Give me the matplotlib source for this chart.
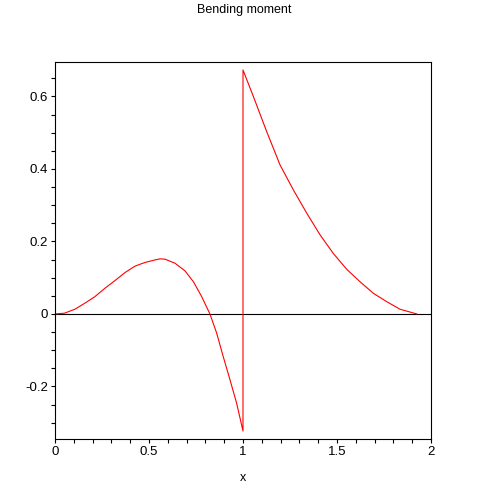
import numpy as np
import matplotlib
matplotlib.use("Agg")
import matplotlib.pyplot as plt
from matplotlib.ticker import MultipleLocator

plt.rcParams['font.family'] = ['Liberation Sans', 'DejaVu Sans']

# values
x_left = [0.0, 0.05, 0.106, 0.16, 0.213, 0.266, 0.319, 0.372, 0.426, 0.479,
          0.532, 0.56, 0.585, 0.638, 0.691, 0.736, 0.78, 0.824, 0.86, 0.895,
          0.931, 0.966, 1.0]
m_left = [0.0, 0.002, 0.013, 0.03, 0.048, 0.071, 0.092, 0.114, 0.132, 0.142,
          0.149, 0.152, 0.151, 0.14, 0.119, 0.089, 0.048, 0.0, -0.053, -0.118,
          -0.182, -0.246, -0.323]
x_right = [1.0, 1.055, 1.126, 1.197, 1.268, 1.339, 1.41, 1.48, 1.552, 1.622,
           1.693, 1.764, 1.835, 1.924]
m_right = [0.673, 0.6, 0.503, 0.411, 0.342, 0.278, 0.218, 0.167, 0.123, 0.089,
           0.057, 0.034, 0.013, 0.0]

x = np.array(x_left + x_right)
m = np.array(m_left + m_right)

fig = plt.figure(figsize=(4.88, 4.88), dpi=100)
ax = fig.add_axes([0.1127, 0.1004, 0.7705, 0.7726])

ax.axhline(0, color='black', lw=0.8)
ax.plot(x, m, color='red', lw=0.8)

ax.set_xlim(0, 2)
ax.set_ylim(-0.345, 0.695)
ax.xaxis.set_major_locator(MultipleLocator(0.5))
ax.xaxis.set_minor_locator(MultipleLocator(0.1))
ax.yaxis.set_major_locator(MultipleLocator(0.2))
ax.yaxis.set_minor_locator(MultipleLocator(0.05))
ax.xaxis.set_major_formatter(plt.FuncFormatter(lambda v, p: f"{v:g}"))
ax.yaxis.set_major_formatter(plt.FuncFormatter(lambda v, p: f"{v:g}"))

ax.tick_params(which='both', direction='out', length=3, width=0.8,
               labelsize=9.5, pad=2)
for s in ax.spines.values():
    s.set_linewidth(0.8)

ax.set_xlabel('x', fontsize=9)
ax.xaxis.set_label_coords(0.5, -0.088)
fig.text(0.5, 1 - 10 / 488, 'Bending moment', ha='center', va='center', fontsize=9)

fig.savefig('out.png', dpi=100)
